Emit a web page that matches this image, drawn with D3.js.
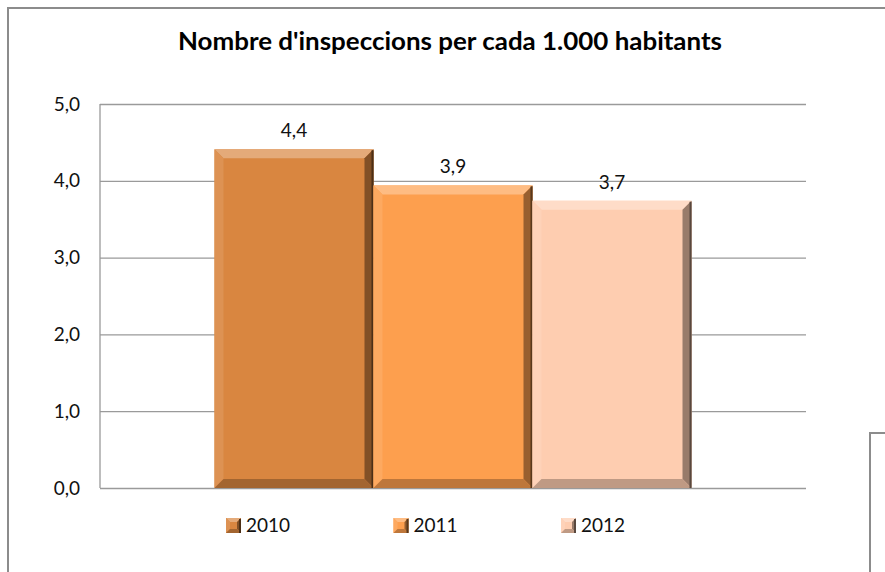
<!DOCTYPE html>
<html>
<head>
<meta charset="utf-8">
<script src="https://cdn.jsdelivr.net/npm/d3@7"></script>
<style>
  body { margin: 0; background: #fff; }
  svg { font-family: Lato, "Open Sans", sans-serif; }
</style>
</head>
<body>
<div id="graf"></div>
<script>
// dades
const anys = ["2010", "2011", "2012"]
const valors = [4.41, 3.94, 3.74]
const ticksY = [0, 1, 2, 3, 4, 5]
const colors = ["#d98640", "#fd9f4e", "#fecdb0"]
const titol = "Nombre d'inspeccions per cada 1.000 habitants"

const W = 885, H = 572
const margins = { top: 104, right: 79, bottom: 84, left: 100 }
const ancho = W - margins.left - margins.right
const alto = H - margins.top - margins.bottom

const svg = d3.select("#graf").append("svg")
  .attr("width", W).attr("height", H)

// marc del gràfic
svg.append("path")
  .attr("d", `M8,${H} L8,8 L${W},8`)
  .attr("fill", "none").attr("stroke", "#8c8c8c").attr("stroke-width", 2)
svg.append("path")
  .attr("d", `M870,${H} L870,433 L${W},433`)
  .attr("fill", "none").attr("stroke", "#8c8c8c").attr("stroke-width", 2)

svg.append("text")
  .attr("x", 450).attr("y", 50)
  .attr("text-anchor", "middle")
  .attr("font-weight", "bold").attr("font-size", 24)
  .attr("textLength", 544).attr("lengthAdjust", "spacingAndGlyphs")
  .text(titol)

const g = svg.append("g").attr("transform", `translate(${margins.left},${margins.top})`)

const y = d3.scaleLinear().domain([0, 5]).range([alto, 0])
const x0 = d3.scaleBand().domain(["cat"]).range([0, ancho]).paddingInner(0).paddingOuter(0.24)
const x = d3.scaleBand().domain(anys).range([x0("cat"), x0("cat") + x0.bandwidth()]).padding(0)

// eix Y
const yAxis = d3.axisLeft(y).tickValues(ticksY).tickSize(-ancho).tickFormat(d => d3.format(".1f")(d).replace(".", ","))
const ya = g.append("g").call(yAxis)
ya.select(".domain").remove()
ya.selectAll(".tick line").attr("stroke", "#9a9a9a").attr("stroke-width", 1.3)
ya.selectAll(".tick text").attr("x", -20).attr("font-size", 19).attr("fill", "#111")
  .attr("font-family", "Lato, sans-serif")
g.append("line").attr("x1", 0).attr("x2", 0).attr("y1", 0).attr("y2", alto)
  .attr("stroke", "#9a9a9a").attr("stroke-width", 1.3)

// colors del bisell
const mix = (c, k, t) => d3.interpolateRgb(c, k)(t)

function bisell(sel, x1, y1, w, h, c, b) {
  const x2 = x1 + w, y2 = y1 + h
  sel.append("rect").attr("x", x1).attr("y", y1).attr("width", w).attr("height", h).attr("fill", c)
  const cares = [
    { p: [[x1, y1], [x2, y1], [x2 - b, y1 + b], [x1 + b, y1 + b]], f: mix(c, "#fff", 0.3) },
    { p: [[x1, y1], [x1 + b, y1 + b], [x1 + b, y2 - b], [x1, y2]], f: mix(c, "#fff", 0.1) },
    { p: [[x2, y1], [x2, y2], [x2 - b, y2 - b], [x2 - b, y1 + b]], f: mix(c, "#000", 0.4) },
    { p: [[x1, y2], [x1 + b, y2 - b], [x2 - b, y2 - b], [x2, y2]], f: mix(c, "#000", 0.25) }
  ]
  sel.selectAll(null).data(cares).enter().append("polygon")
    .attr("points", d => d.p.map(q => q.join(",")).join(" "))
    .attr("fill", d => d.f)
  sel.append("rect").attr("x", x2 - 2).attr("y", y1 + 1).attr("width", 2).attr("height", h - 1)
    .attr("fill", mix(c, "#000", 0.65))
}

// barres
anys.forEach((a, i) => {
  const bg = g.append("g")
  bisell(bg, x(a), y(valors[i]), x.bandwidth(), alto - y(valors[i]), colors[i], 9)
  g.append("text")
    .attr("x", x(a) + x.bandwidth() / 2)
    .attr("y", y(valors[i]) - 12)
    .attr("text-anchor", "middle")
    .attr("font-size", 19).attr("fill", "#111")
    .text(d3.format(".1f")(valors[i]).replace(".", ","))
})

// llegenda
const llegX = d3.scalePoint().domain(anys).range([226, 561])
anys.forEach((a, i) => {
  const lg = svg.append("g")
  bisell(lg, llegX(a), 518, 15, 15, colors[i], 4)
  svg.append("text").attr("x", llegX(a) + 20).attr("y", 532)
    .attr("font-size", 19).attr("fill", "#111").text(a)
})
</script>
</body>
</html>
